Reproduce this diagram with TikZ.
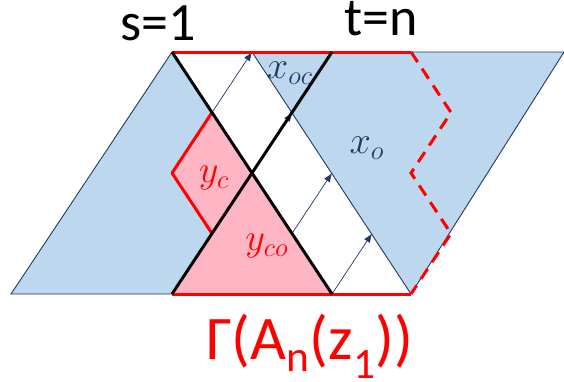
\documentclass[tikz,border=0pt]{standalone}
\usepackage{fontspec}
\setmainfont{Carlito}
\usetikzlibrary{arrows.meta}
\definecolor{lblue}{HTML}{BDD7EE}
\definecolor{navy}{HTML}{203864}
\definecolor{lpink}{HTML}{FFB6C4}
\definecolor{pred}{HTML}{FF0000}
\tikzset{
  navyline/.style={draw=navy, line width=0.9pt},
  blackline/.style={draw=black, line width=3pt},
  redline/.style={draw=pred, line width=3pt},
  reddash/.style={draw=pred, line width=3pt, dash pattern=on 12pt off 8pt},
  flow/.style={navy, line width=0.7pt, -{Latex[length=9pt,width=7pt]}},
  lbl/.style={inner sep=0pt, anchor=base},
  mathlbl/.style={inner sep=0pt, font=\fontsize{20}{24}\selectfont, scale=1.85},
}
\begin{document}
\begin{tikzpicture}[x=1pt,y=-1pt]
\useasboundingbox (0,0) rectangle (564,381);
% key points
\coordinate (A) at (11,294);
\coordinate (B) at (172,52);
\coordinate (C) at (411,52);
\coordinate (TR) at (564,52);
\coordinate (BR) at (411,294);
\coordinate (BL) at (172,294);
\coordinate (T3) at (252,52);
\coordinate (T2) at (332,52);
\coordinate (B1) at (332,294);
\coordinate (X) at (252,173);
\coordinate (P1) at (212,112.5);
\coordinate (PL) at (172,173);
\coordinate (P2) at (212,233.5);
\coordinate (P3) at (292,233.5);
\coordinate (Q1) at (292,112.5);
\coordinate (Q2) at (332,173);
\coordinate (Q3) at (372,233.5);
\coordinate (D1) at (451,112.5);
\coordinate (D2) at (411,173);
\coordinate (D3) at (451,233.5);
% fills
\fill[lblue] (A) -- (B) -- (TR) -- (BR) -- cycle;
\fill[white] (B) -- (T3) -- (BR) -- (B1) -- cycle;
\fill[lpink] (P1) -- (PL) -- (P2) -- (X) -- cycle;
\fill[lpink] (BL) -- (X) -- (B1) -- cycle;
% navy outlines
\draw[navyline] (BL) -- (A) -- (B);
\draw[navyline] (C) -- (TR) -- (BR);
\draw[navyline] (T3) -- (BR);
% arrows
\draw[flow] (P1) -- (T3);
\draw[flow] (X) -- (Q1);
\draw[flow] (P3) -- (Q2);
\draw[flow] (B1) -- (Q3);
% red
\draw[redline] (B) -- (C);
\draw[redline] (BL) -- (BR);
\draw[redline, line join=round] (P1) -- (PL) -- (P2);
\draw[reddash] (C) -- (D1) -- (D2) -- (D3) -- (BR);
% black
\draw[blackline] (B) -- (B1);
\draw[blackline] (BL) -- (T2);
% labels
\node[lbl, font=\fontsize{54}{60}\selectfont] (s) at (158.5,40) {s=1};
\node[lbl, font=\fontsize{54}{60}\selectfont] (t) at (381,35) {t=n};
\node[inner sep=0pt, anchor=base west, text=pred, font=\fontsize{62}{70}\selectfont] (g) at (206,359) {Γ(A\textsubscript{n}(z\textsubscript{1}))};
\node[mathlbl, text=navy] (xoc) at (290,73) {$x_{oc}$};
\node[mathlbl, text=navy] (xo) at (367,148) {$x_{o}$};
\node[mathlbl, text=pred] (yc) at (214,178) {$y_{c}$};
\node[mathlbl, text=pred] (yco) at (267,246) {$y_{co}$};
\end{tikzpicture}
\end{document}
